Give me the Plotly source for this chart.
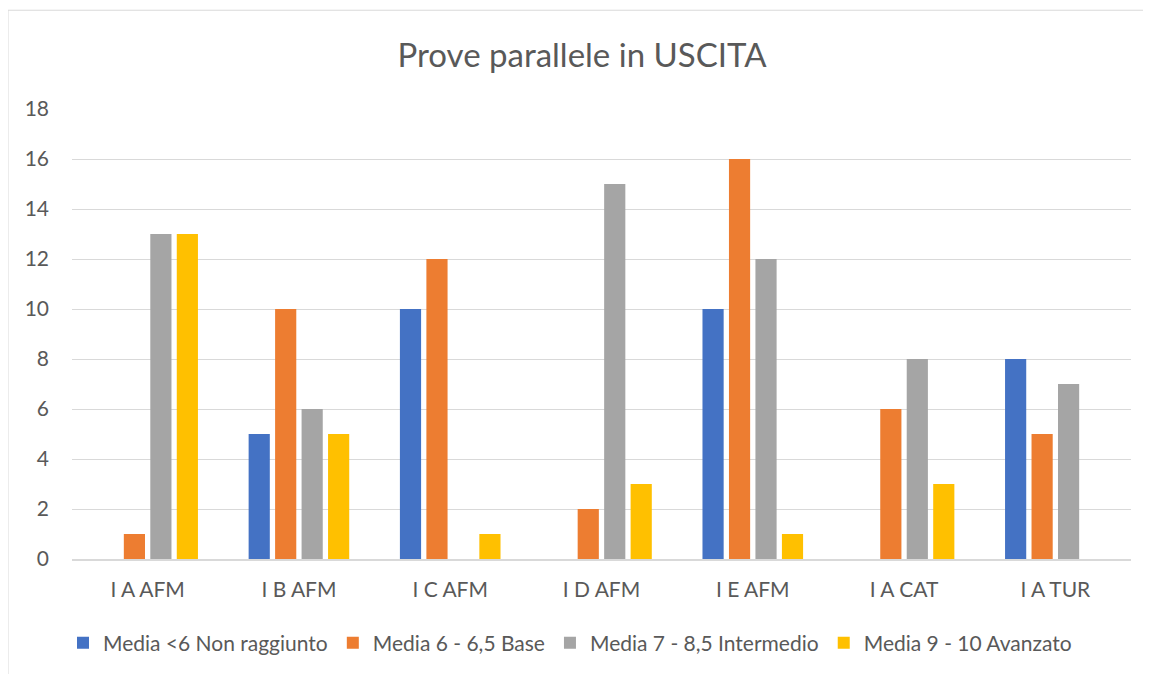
import plotly.graph_objects as go

# Dati
classi = ['I A AFM', 'I B AFM', 'I C AFM', 'I D AFM', 'I E AFM', 'I A CAT', 'I A TUR']
non_raggiunto = [0, 5, 10, 0, 10, 0, 8]
base = [1, 10, 12, 2, 16, 6, 5]
intermedio = [13, 6, 0, 15, 12, 8, 7]
avanzato = [13, 5, 1, 3, 1, 3, 0]

serie = [
    ('Media <6 Non raggiunto', non_raggiunto, '#4472C4'),
    ('Media 6 - 6,5 Base', base, '#ED7D31'),
    ('Media 7 - 8,5 Intermedio', intermedio, '#A5A5A5'),
    ('Media 9 - 10 Avanzato', avanzato, '#FFC000'),
]

OFF = 8  # margine del body della pagina
W, H = 1151 - OFF, 674 - OFF
L, R, T, B = 72 - OFF, 20, 109 - OFF, 114
pw, ph = W - L - R, H - T - B


def px_x(p):
    return (p - OFF - L) / pw


def px_y(p):
    return (H - B - (p - OFF)) / ph


fig = go.Figure()
for nome, valori, colore in serie:
    fig.add_trace(go.Bar(
        x=classi, y=valori, name=nome,
        marker=dict(color=colore, line=dict(width=0)),
    ))

fig.update_layout(
    width=W, height=H,
    margin=dict(l=L, r=R, t=T, b=B),
    paper_bgcolor='white', plot_bgcolor='white',
    font=dict(family='Lato, Calibri, sans-serif', color='#595959', size=21),
    title=dict(text='Prove parallele in USCITA', x=(582 - OFF) / W, xanchor='center',
               y=1 - (55 - OFF) / H, yanchor='middle',
               font=dict(size=33, color='#595959')),
    barmode='group', bargap=0.3, bargroupgap=0.2,
    xaxis=dict(showgrid=False, showline=True, linecolor='#D9D9D9', linewidth=1.5,
               ticks='', ticklabelstandoff=11, tickfont=dict(size=21, color='#595959')),
    yaxis=dict(range=[0, 18], dtick=2, showgrid=True, gridcolor='#D9D9D9',
               gridwidth=1, zeroline=False, showline=False, ticks='',
               ticklabelstandoff=22, tickfont=dict(size=21, color='#595959')),
    legend=dict(orientation='h', x=px_x(570), xanchor='center',
                y=px_y(643), yanchor='middle',
                font=dict(size=21, color='#595959'),
                itemwidth=30, traceorder='normal'),
    shapes=[dict(type='rect', xref='paper', yref='paper',
                 x0=px_x(8), x1=px_x(1170), y0=px_y(700), y1=px_y(10),
                 line=dict(color='#D9D9D9', width=1), layer='below')],
)

fig.write_html('out.html')
